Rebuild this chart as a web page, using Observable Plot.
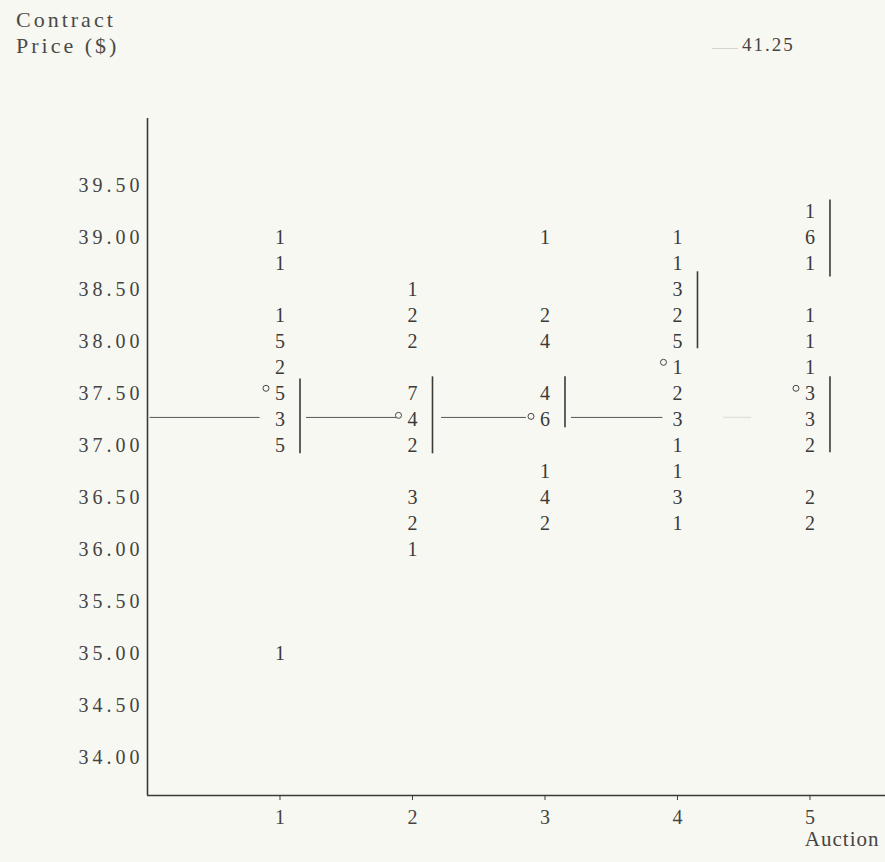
<!DOCTYPE html>
<html>
<head>
<meta charset="utf-8">
<script src="https://cdn.jsdelivr.net/npm/d3@7"></script>
<script src="https://cdn.jsdelivr.net/npm/@observablehq/plot@0.6"></script>
<style>
  html, body { margin: 0; padding: 0; background: #f8f8f2; }
  #wrap { position: relative; width: 885px; height: 862px; overflow: hidden;
          font-family: "Liberation Serif", "DejaVu Serif", serif; color: #4a4a4a; }
  #head { position: relative; height: 100px; }
  .t { position: absolute; left: 16px; font-size: 22px; letter-spacing: 3px; line-height: 24px; }
  #off { position: absolute; left: 742px; top: 34px; font-size: 19px; letter-spacing: 2px; color: #444; }
  #dash { position: absolute; left: 712px; top: 48px; width: 26px; height: 1px; background: #d4d4ce; }
  #chart svg g[aria-label="y-axis tick label"] text { letter-spacing: 4px; }
  #chart svg > g[aria-label="text"]:last-of-type text { letter-spacing: 1px; }
</style>
</head>
<body>
<div id="wrap">
  <div id="head">
    <div class="t" style="top:8px">Contract</div>
    <div class="t" style="top:34px">Price ($)</div>
    <div id="dash"></div>
    <div id="off">41.25</div>
  </div>
  <div id="chart"></div>
</div>
<script>
// ---- data ----
const auctions = [1, 2, 3, 4, 5];
const priceTicks = [34.0, 34.5, 35.0, 35.5, 36.0, 36.5, 37.0, 37.5, 38.0, 38.5, 39.0, 39.5];

const prices1 = [39.00, 38.75, 38.25, 38.00, 37.75, 37.50, 37.25, 37.00, 35.00];
const counts1 = [1, 1, 1, 5, 2, 5, 3, 5, 1];
const prices2 = [38.50, 38.25, 38.00, 37.50, 37.25, 37.00, 36.50, 36.25, 36.00];
const counts2 = [1, 2, 2, 7, 4, 2, 3, 2, 1];
const prices3 = [39.00, 38.25, 38.00, 37.50, 37.25, 36.75, 36.50, 36.25];
const counts3 = [1, 2, 4, 4, 6, 1, 4, 2];
const prices4 = [39.00, 38.75, 38.50, 38.25, 38.00, 37.75, 37.50, 37.25, 37.00, 36.75, 36.50, 36.25];
const counts4 = [1, 1, 3, 2, 5, 1, 2, 3, 1, 1, 3, 1];
const prices5 = [39.25, 39.00, 38.75, 38.25, 38.00, 37.75, 37.50, 37.25, 37.00, 36.50, 36.25];
const counts5 = [1, 6, 1, 1, 1, 1, 3, 3, 2, 2, 2];

// small circle marker per auction
const markerPrices = [37.55, 37.29, 37.28, 37.80, 37.55];

// vertical bars beside groups
const barAuction = [1, 2, 3, 4, 5, 5];
const barLow  = [36.92, 36.92, 37.17, 37.93, 38.62, 36.93];
const barHigh = [37.64, 37.66, 37.66, 38.67, 39.36, 37.66];

// horizontal reference line (broken around the numbers)
const refPrice = 37.27;
const refStart = [0.02, 1.20, 2.22, 3.20];
const refEnd   = [0.85, 1.88, 2.86, 3.89];
const faintStart = [4.35];
const faintEnd   = [4.56];

// scale extents
const xDomain = [0, 5.57];
const yDomain = [33.635, 40.144];

// ---- tables built from the arrays ----
const columns = [[prices1, counts1], [prices2, counts2], [prices3, counts3], [prices4, counts4], [prices5, counts5]];
const entries = columns.flatMap(([p, c], i) => p.map((v, j) => ({auction: auctions[i], price: v, count: c[j]})));
const markers = auctions.map((a, i) => ({auction: a, price: markerPrices[i]}));
const bars = barAuction.map((a, i) => ({auction: a, lo: barLow[i], hi: barHigh[i]}));
const refSegs = refStart.map((s, i) => ({x1: s, x2: refEnd[i], y: refPrice}));
const faintSegs = faintStart.map((s, i) => ({x1: s, x2: faintEnd[i], y: refPrice}));

const ink = "#3a3a3a";

const chart = Plot.plot({
  width: 885,
  height: 762,
  marginLeft: 147,
  marginRight: 0,
  marginTop: 18,
  marginBottom: 67,
  x: {domain: xDomain, axis: null},
  y: {domain: yDomain, axis: null},
  style: {background: "transparent", fontFamily: "'Liberation Serif', 'DejaVu Serif', serif", fontSize: "20px", color: ink},
  marks: [
    Plot.axisY(priceTicks, {anchor: "left", tickSize: 0, tickPadding: 4, tickFormat: d => d.toFixed(2), fontSize: 20, label: null, fill: "#444"}),
    Plot.axisX(auctions, {anchor: "bottom", tickSize: 5, tickPadding: 9, tickFormat: d => String(d), fontSize: 20, label: null, stroke: ink, fill: "#444"}),
    Plot.ruleX([xDomain[0]], {stroke: ink, strokeWidth: 1.6}),
    Plot.ruleY([yDomain[0]], {stroke: ink, strokeWidth: 1.6}),
    Plot.ruleY(refSegs, {y: "y", x1: "x1", x2: "x2", stroke: "#555", strokeWidth: 1}),
    Plot.ruleY(faintSegs, {y: "y", x1: "x1", x2: "x2", stroke: "#555", strokeWidth: 1.5, strokeOpacity: 0.12}),
    Plot.ruleX(bars, {x: "auction", y1: "lo", y2: "hi", dx: 20, stroke: ink, strokeWidth: 1.6}),
    Plot.text(entries, {x: "auction", y: "price", text: d => String(d.count), fontSize: 20, fill: ink}),
    Plot.dot(markers, {x: "auction", y: "price", r: 3, dx: -14, stroke: "#444", strokeWidth: 1, fill: "#f8f8f2"}),
    Plot.text(["Auction"], {frameAnchor: "bottom-right", textAnchor: "end", dx: -6, dy: 50, fontSize: 21, fill: "#444"})
  ]
});
document.getElementById("chart").appendChild(chart);
</script>
</body>
</html>
